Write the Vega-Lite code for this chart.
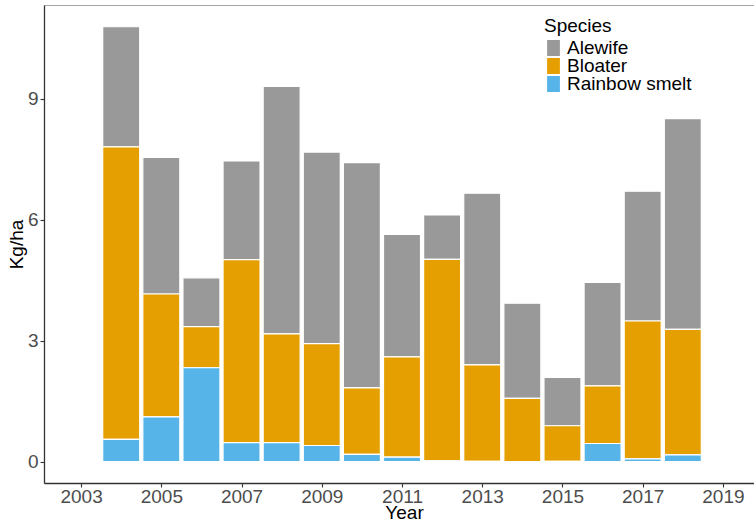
{
  "$schema": "https://vega.github.io/schema/vega-lite/v6.json",
  "autosize": {"type": "none"},
  "padding": {"left": 44, "top": 5, "right": 0, "bottom": 41},
  "width": 710,
  "height": 478,
  "background": "white",
  "config": {
    "font": "Liberation Sans",
    "view": {"stroke": "#a6a6a6", "strokeWidth": 1},
    "axis": {
      "grid": false,
      "domainColor": "#333333",
      "domainWidth": 1.3,
      "tickColor": "#333333",
      "tickSize": 4,
      "tickWidth": 1.1,
      "labelColor": "#4d4d4d",
      "labelFontSize": 19,
      "labelFont": "Liberation Sans",
      "titleFont": "Liberation Sans",
      "titleFontSize": 19,
      "titleFontWeight": "normal",
      "titleColor": "#000000"
    }
  },
  "data": {
    "values": [
      {"year": 2004, "species": "Alewife", "kg": 2.98},
      {"year": 2004, "species": "Bloater", "kg": 7.26},
      {"year": 2004, "species": "Rainbow smelt", "kg": 0.55},
      {"year": 2005, "species": "Alewife", "kg": 3.39},
      {"year": 2005, "species": "Bloater", "kg": 3.05},
      {"year": 2005, "species": "Rainbow smelt", "kg": 1.11},
      {"year": 2006, "species": "Alewife", "kg": 1.21},
      {"year": 2006, "species": "Bloater", "kg": 1.02},
      {"year": 2006, "species": "Rainbow smelt", "kg": 2.33},
      {"year": 2007, "species": "Alewife", "kg": 2.45},
      {"year": 2007, "species": "Bloater", "kg": 4.54},
      {"year": 2007, "species": "Rainbow smelt", "kg": 0.47},
      {"year": 2008, "species": "Alewife", "kg": 6.14},
      {"year": 2008, "species": "Bloater", "kg": 2.70},
      {"year": 2008, "species": "Rainbow smelt", "kg": 0.47},
      {"year": 2009, "species": "Alewife", "kg": 4.75},
      {"year": 2009, "species": "Bloater", "kg": 2.53},
      {"year": 2009, "species": "Rainbow smelt", "kg": 0.40},
      {"year": 2010, "species": "Alewife", "kg": 5.59},
      {"year": 2010, "species": "Bloater", "kg": 1.65},
      {"year": 2010, "species": "Rainbow smelt", "kg": 0.18},
      {"year": 2011, "species": "Alewife", "kg": 3.04},
      {"year": 2011, "species": "Bloater", "kg": 2.49},
      {"year": 2011, "species": "Rainbow smelt", "kg": 0.11},
      {"year": 2012, "species": "Alewife", "kg": 1.10},
      {"year": 2012, "species": "Bloater", "kg": 5.00},
      {"year": 2012, "species": "Rainbow smelt", "kg": 0.02},
      {"year": 2013, "species": "Alewife", "kg": 4.26},
      {"year": 2013, "species": "Bloater", "kg": 2.39},
      {"year": 2013, "species": "Rainbow smelt", "kg": 0.01},
      {"year": 2014, "species": "Alewife", "kg": 2.36},
      {"year": 2014, "species": "Bloater", "kg": 1.57},
      {"year": 2014, "species": "Rainbow smelt", "kg": 0.0},
      {"year": 2015, "species": "Alewife", "kg": 1.20},
      {"year": 2015, "species": "Bloater", "kg": 0.88},
      {"year": 2015, "species": "Rainbow smelt", "kg": 0.01},
      {"year": 2016, "species": "Alewife", "kg": 2.57},
      {"year": 2016, "species": "Bloater", "kg": 1.43},
      {"year": 2016, "species": "Rainbow smelt", "kg": 0.45},
      {"year": 2017, "species": "Alewife", "kg": 3.22},
      {"year": 2017, "species": "Bloater", "kg": 3.42},
      {"year": 2017, "species": "Rainbow smelt", "kg": 0.07},
      {"year": 2018, "species": "Alewife", "kg": 5.23},
      {"year": 2018, "species": "Bloater", "kg": 3.11},
      {"year": 2018, "species": "Rainbow smelt", "kg": 0.17}
    ]
  },
  "mark": {"type": "bar", "size": 37, "stroke": "white", "strokeWidth": 1.2},
  "encoding": {
    "x": {
      "field": "year",
      "type": "quantitative",
      "title": "Year",
      "scale": {"domain": [2002.2, 2019.65], "nice": false, "zero": false},
      "axis": {
        "values": [2003, 2005, 2007, 2009, 2011, 2013, 2015, 2017, 2019],
        "format": "d",
        "labelPadding": 0,
        "titlePadding": -3,
        "titleX": 360
      }
    },
    "y": {
      "field": "kg",
      "type": "quantitative",
      "aggregate": "sum",
      "stack": "zero",
      "title": "Kg/ha",
      "scale": {"domain": [-0.53, 11.33], "nice": false, "zero": false},
      "axis": {"values": [0, 3, 6, 9], "labelPadding": 2, "titlePadding": 1}
    },
    "color": {
      "field": "species",
      "type": "nominal",
      "scale": {
        "domain": ["Alewife", "Bloater", "Rainbow smelt"],
        "range": ["#999999", "#E69F00", "#56B4E9"]
      },
      "legend": {
        "title": "Species",
        "orient": "none",
        "legendX": 500,
        "legendY": 12,
        "titleFontSize": 19,
        "titleFontWeight": "normal",
        "titleColor": "#000000",
        "titleFont": "Liberation Sans",
        "titlePadding": 4,
        "labelFontSize": 19,
        "labelFont": "Liberation Sans",
        "labelColor": "#000000",
        "labelOffset": 4,
        "symbolType": "M-0.8,-1H0.8V1H-0.8Z",
        "symbolSize": 256,
        "symbolStrokeWidth": 0,
        "clipHeight": 16,
        "rowPadding": -4
      }
    },
    "order": {"field": "species", "sort": "descending"}
  }
}
